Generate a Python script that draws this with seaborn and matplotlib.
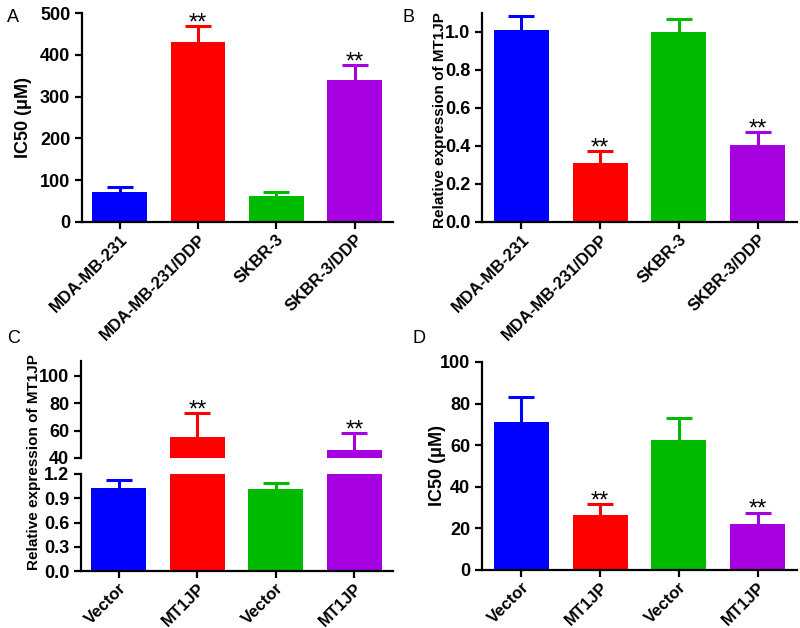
import numpy as np
import pandas as pd
import matplotlib
matplotlib.use('Agg')
import matplotlib.pyplot as plt
import seaborn as sns

sns.set_style('ticks')
plt.rcParams['font.family'] = ['Liberation Sans', 'DejaVu Sans']
plt.rcParams['text.color'] = 'black'
plt.rcParams['xtick.color'] = 'black'
plt.rcParams['ytick.color'] = 'black'
plt.rcParams['axes.edgecolor'] = 'black'
plt.rcParams['axes.labelcolor'] = 'black'

# data
cell_lines = ['MDA-MB-231', 'MDA-MB-231/DDP', 'SKBR-3', 'SKBR-3/DDP']
groups = ['Vector', 'MT1JP', 'Vector', 'MT1JP']
stars = ['', '**', '', '**']

ic50_a = [72, 430, 62, 340]
ic50_a_err = [12, 39, 10, 35]

expr_b = [1.01, 0.31, 1.0, 0.405]
expr_b_err = [0.075, 0.065, 0.07, 0.068]

expr_c = [1.03, 55, 1.02, 46]
expr_c_err = [0.09, 18, 0.07, 12]

ic50_d = [71, 26.5, 62.3, 22.1]
ic50_d_err = [12, 5, 11, 5.5]

colors = ['#0000FF', '#FF0000', '#00BB00', '#A600E0']
keys = ['k0', 'k1', 'k2', 'k3']
pal = dict(zip(keys, colors))

LW = 1.6
TICK_FS = 13
XLAB_FS = 12


def draw_bars(ax, values, errs, xlim):
    df = pd.DataFrame({'key': keys, 'val': values})
    sns.barplot(data=df, x='key', y='val', hue='key', palette=pal, legend=False,
                width=0.7, saturation=1, errorbar=None, linewidth=0, ax=ax)
    for i in range(4):
        _, caps, _ = ax.errorbar(i, values[i], yerr=[[0], [errs[i]]], fmt='none',
                                 ecolor=colors[i], elinewidth=2.2, capsize=9.5,
                                 capthick=2.2, zorder=1)
        # hide the zero-length lower cap sitting on the bar top
        for c in caps:
            if np.isclose(c.get_ydata()[0], values[i]):
                c.set_visible(False)
    ax.set_xlim(*xlim)
    ax.set_xlabel('')
    ax.set_ylabel('')
    ax.tick_params(width=LW, length=5, labelsize=TICK_FS)
    ax.tick_params(axis='x', pad=2)
    for s in ['left', 'bottom']:
        ax.spines[s].set_linewidth(LW)
    sns.despine(ax=ax)


def add_stars(ax, values, errs, sig):
    for i in range(4):
        if sig[i]:
            ax.annotate(sig[i], (i, values[i] + errs[i]), xytext=(0, -6),
                        textcoords='offset points', ha='center', va='bottom',
                        fontsize=17, annotation_clip=False)


def set_xlabels(ax, labels):
    ax.set_xticks(range(4))
    ax.set_xticklabels(labels, rotation=45, ha='right', rotation_mode='anchor',
                       fontweight='bold', fontsize=XLAB_FS)


def bold_y(ax):
    for t in ax.get_yticklabels():
        t.set_fontweight('bold')


fig = plt.figure(figsize=(8, 6.28), dpi=100)
W, H = 800, 628


def px_axes(left, right, top, bottom):
    return fig.add_axes([left / W, 1 - bottom / H, (right - left) / W, (bottom - top) / H])


# Panel A
axA = px_axes(82, 393, 13, 222)
draw_bars(axA, ic50_a, ic50_a_err, (-0.48, 3.49))
axA.set_ylim(0, 500)
axA.set_yticks([0, 100, 200, 300, 400, 500])
add_stars(axA, ic50_a, ic50_a_err, stars)
set_xlabels(axA, cell_lines)
bold_y(axA)
axA.set_ylabel('IC50 (μM)', fontsize=13, fontweight='bold')
axA.yaxis.set_label_coords(-0.16, 0.5)

# Panel B
axB = px_axes(482, 797, 13, 222)
draw_bars(axB, expr_b, expr_b_err, (-0.5, 3.5))
axB.set_ylim(0, 1.1)
axB.set_yticks([0, 0.2, 0.4, 0.6, 0.8, 1.0])
axB.set_yticklabels(['0.0', '0.2', '0.4', '0.6', '0.8', '1.0'])
add_stars(axB, expr_b, expr_b_err, stars)
set_xlabels(axB, cell_lines)
bold_y(axB)
axB.set_ylabel('Relative expression of MT1JP', fontsize=11, fontweight='bold')
axB.yaxis.set_label_coords(-0.112, 0.49)

# Panel C (broken axis)
axC_lo = px_axes(81, 393, 474, 571)
axC_hi = px_axes(81, 393, 361, 458)
draw_bars(axC_lo, expr_c, expr_c_err, (-0.48, 3.49))
draw_bars(axC_hi, expr_c, expr_c_err, (-0.48, 3.49))
axC_lo.set_ylim(0, 1.2)
axC_lo.set_yticks([0, 0.3, 0.6, 0.9, 1.2])
axC_lo.set_yticklabels(['0.0', '0.3', '0.6', '0.9', '1.2'])
axC_hi.set_ylim(40, 110.7)
axC_hi.set_yticks([40, 60, 80, 100])
axC_hi.spines['bottom'].set_visible(False)
axC_hi.tick_params(axis='x', bottom=False, labelbottom=False)
add_stars(axC_hi, expr_c, expr_c_err, stars)
set_xlabels(axC_lo, groups)
bold_y(axC_lo)
bold_y(axC_hi)
fig.text(34 / W, 1 - 462 / H, 'Relative expression of MT1JP', rotation=90,
         ha='center', va='center', fontsize=11, fontweight='bold')

# Panel D
axD = px_axes(482, 797, 362, 570)
draw_bars(axD, ic50_d, ic50_d_err, (-0.5, 3.5))
axD.set_ylim(0, 100)
axD.set_yticks([0, 20, 40, 60, 80, 100])
add_stars(axD, ic50_d, ic50_d_err, stars)
set_xlabels(axD, groups)
bold_y(axD)
axD.set_ylabel('IC50 (μM)', fontsize=13, fontweight='bold')
axD.yaxis.set_label_coords(-0.115, 0.5)

# panel letters
for letter, x, y in [('A', 7, 9), ('B', 403, 9), ('C', 7, 330), ('D', 412, 330)]:
    fig.text(x / W, 1 - y / H, letter, fontsize=13, ha='left', va='top')

fig.savefig('out.png', dpi=100)
